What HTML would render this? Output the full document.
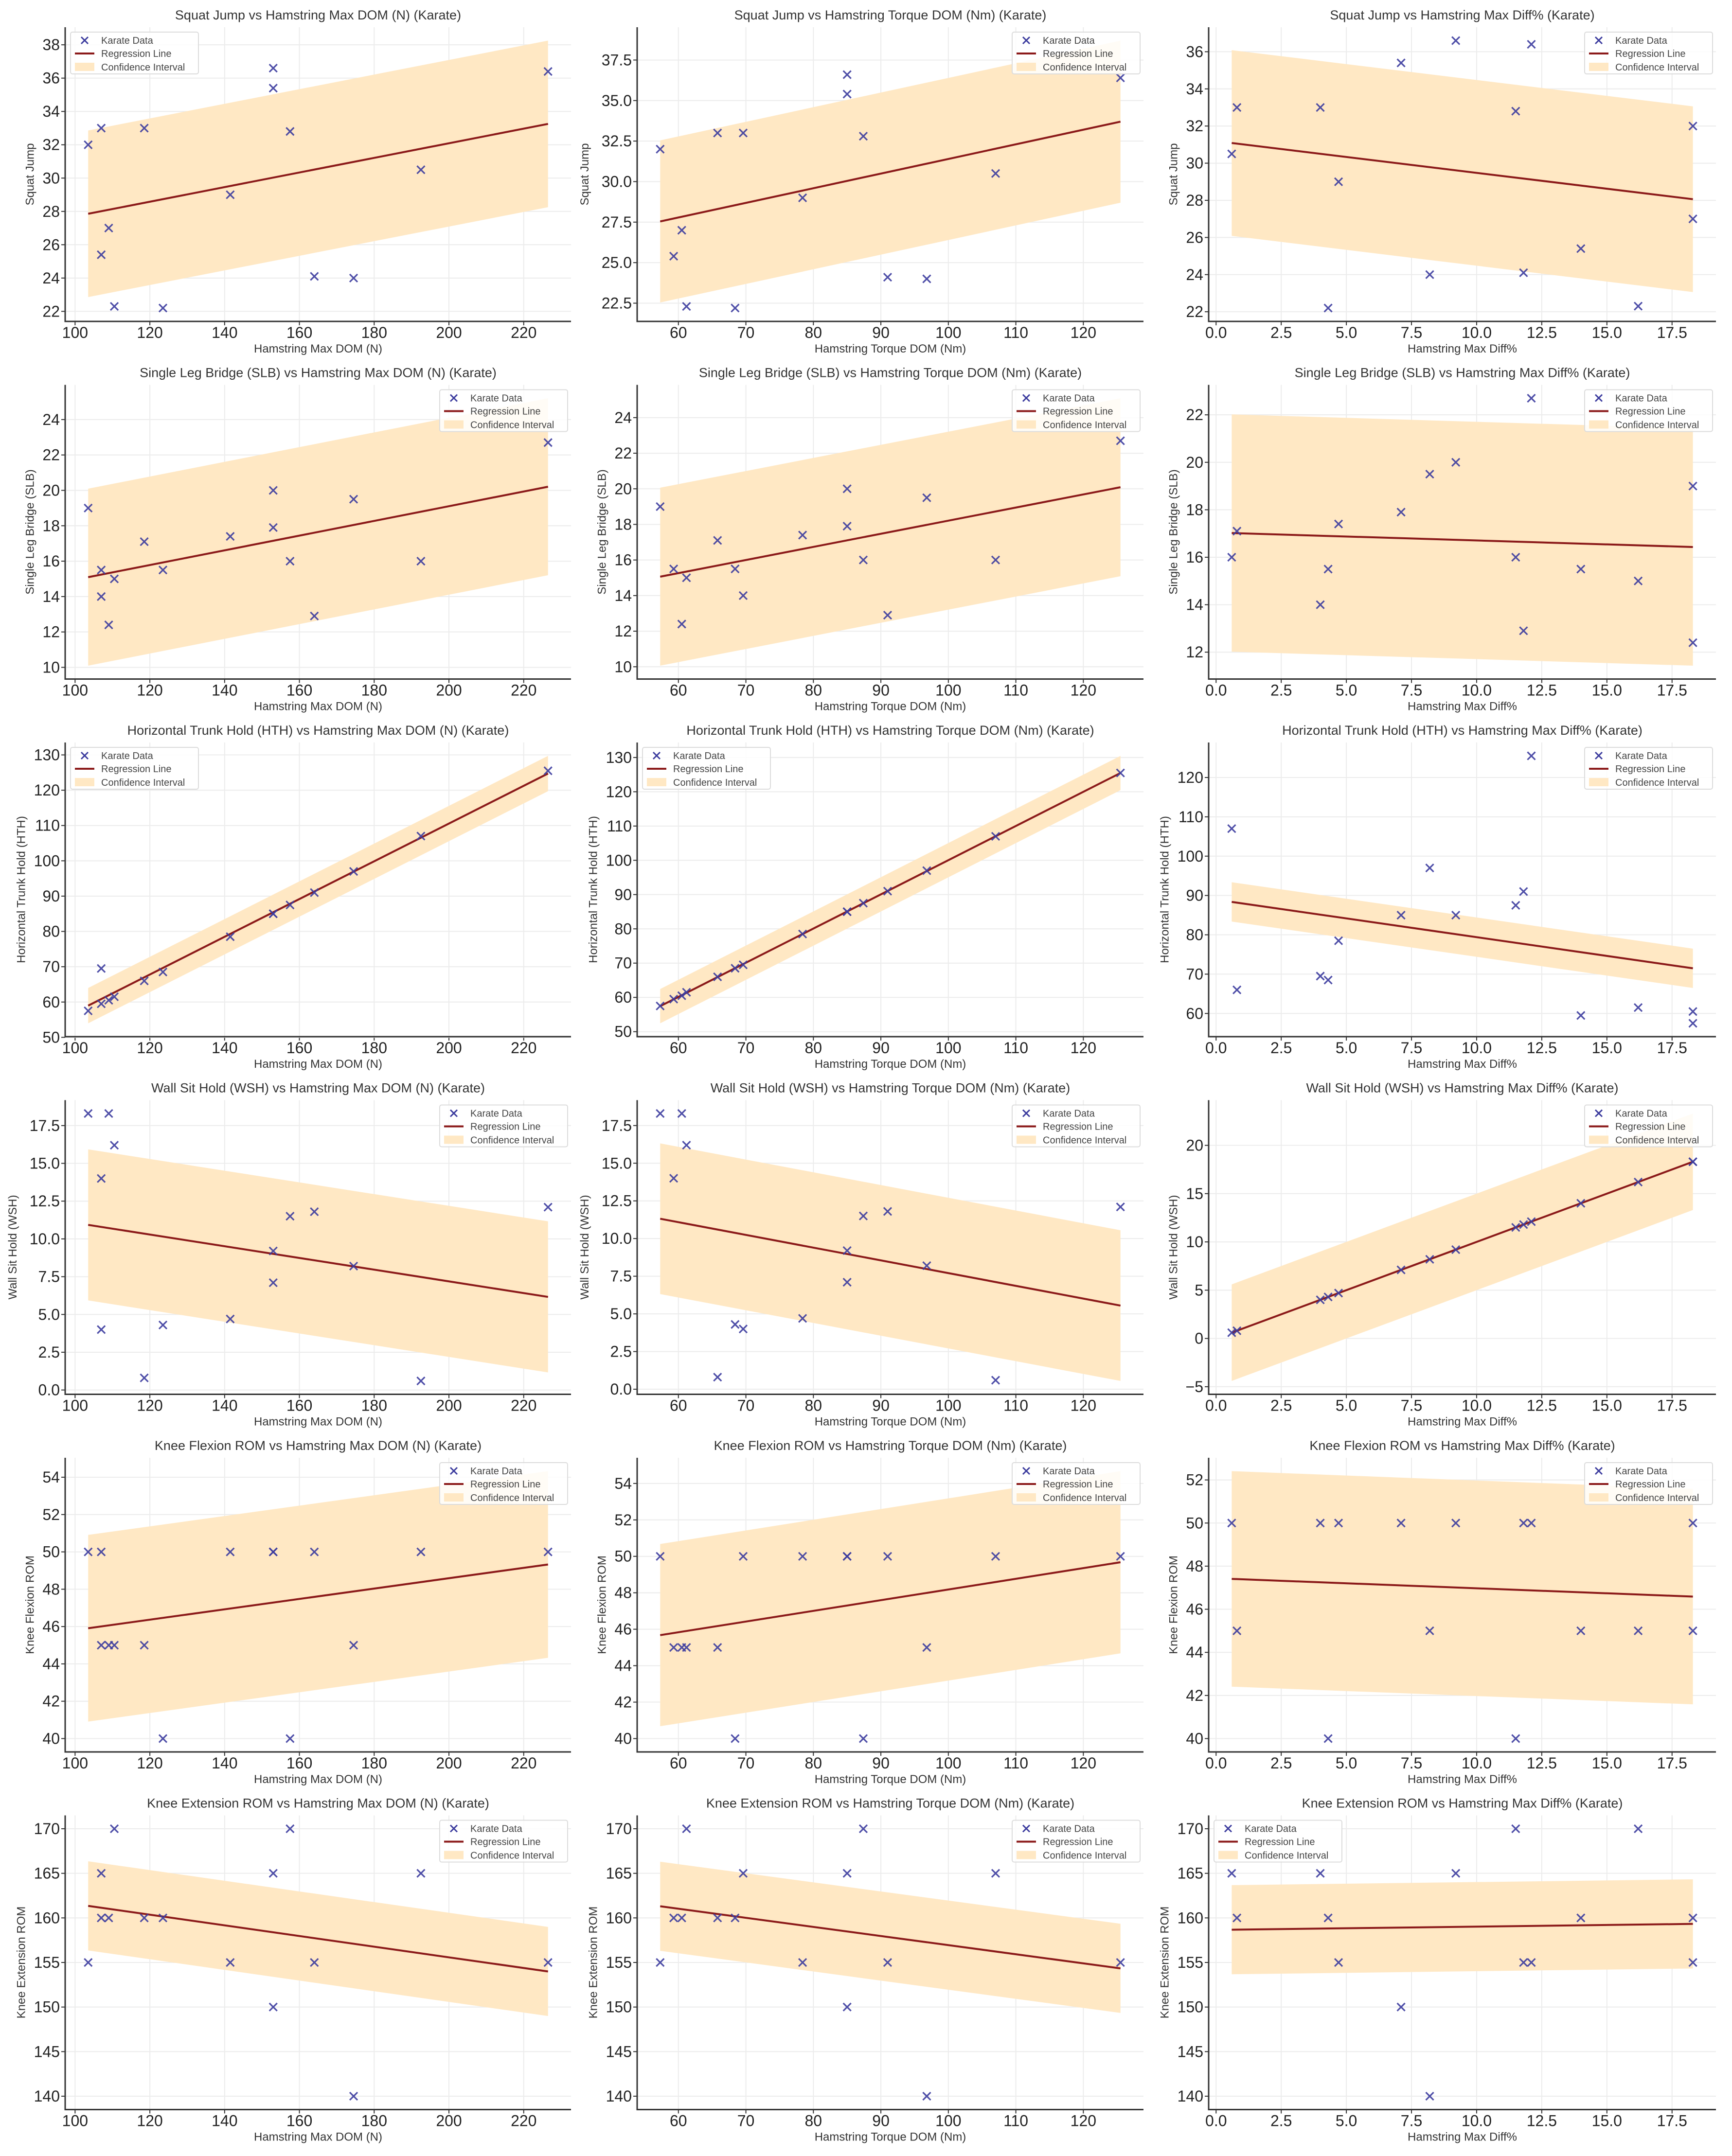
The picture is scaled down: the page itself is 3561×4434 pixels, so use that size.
<!DOCTYPE html>
<html><head><meta charset="utf-8"><style>
html,body{margin:0;padding:0;background:#fff;}
svg{display:block;font-family:"Liberation Sans",sans-serif;}
</style></head><body>
<svg id="fig" width="3561" height="4434" viewBox="0 0 3561 4434" xmlns="http://www.w3.org/2000/svg"></svg>
<script>
// athletes (same order across all arrays)
const maxDom = [103.5,107,118.5,107,109,110.5,123.5,141.5,153,153,157.5,164,174.5,192.5,226.5];
const torqueDom = [57.3,69.6,65.8,59.3,60.5,61.2,68.4,78.4,85,85,87.4,91,96.8,107,125.5];
const maxDiff = [18.3,4.0,0.8,14,18.3,16.2,4.3,4.7,9.2,7.1,11.5,11.8,8.2,0.6,12.1];
const squatJump = [32,33,33,25.4,27,22.3,22.2,29,36.6,35.4,32.8,24.1,24,30.5,36.4];
const singleLegBridge = [19,14,17.1,15.5,12.4,15,15.5,17.4,20,17.9,16,12.9,19.5,16,22.7];
const trunkHold = [57.5,69.5,66,59.5,60.5,61.5,68.5,78.5,85,85,87.5,91,97,107,125.5];
const wallSit = [18.3,4.0,0.8,14,18.3,16.2,4.3,4.7,9.2,7.1,11.5,11.8,8.2,0.6,12.1];
const kneeFlex = [50,50,45,45,45,45,40,50,50,50,40,50,45,50,50];
const kneeExt = [155,165,160,160,160,170,160,155,165,150,170,155,140,165,155];

const xNames = ["Hamstring Max DOM (N)","Hamstring Torque DOM (Nm)","Hamstring Max Diff%"];
const xTitleNames = ["Hamstring Max DOM (N)","Hamstring Torque DOM (Nm)","Hamstring Max Diff% "];
const xTickLabels = [["100","120","140","160","180","200","220"],["60","70","80","90","100","110","120"],["0.0","2.5","5.0","7.5","10.0","12.5","15.0","17.5"]];
const yNames = ["Squat Jump","Single Leg Bridge (SLB)","Horizontal Trunk Hold (HTH)","Wall Sit Hold (WSH)","Knee Flexion ROM","Knee Extension ROM"];
const yTickLabels = [
 [["22","24","26","28","30","32","34","36","38"],["22.5","25.0","27.5","30.0","32.5","35.0","37.5"],["22","24","26","28","30","32","34","36"]],
 [["10","12","14","16","18","20","22","24"],["10","12","14","16","18","20","22","24"],["12","14","16","18","20","22"]],
 [["50","60","70","80","90","100","110","120","130"],["50","60","70","80","90","100","110","120","130"],["60","70","80","90","100","110","120"]],
 [["0.0","2.5","5.0","7.5","10.0","12.5","15.0","17.5"],["0.0","2.5","5.0","7.5","10.0","12.5","15.0","17.5"],["\u22125","0","5","10","15","20"]],
 [["40","42","44","46","48","50","52","54"],["40","42","44","46","48","50","52","54"],["40","42","44","46","48","50","52"]],
 [["140","145","150","155","160","165","170"],["140","145","150","155","160","165","170"],["140","145","150","155","160","165","170"]]
];
const legendSide = [["L","R","R"],["R","R","R"],["L","L","R"],["R","R","R"],["R","R","R"],["R","R","L"]];
const bandHalf = 5;

const xs = [maxDom, torqueDom, maxDiff];
const ys = [squatJump, singleLegBridge, trunkHold, wallSit, kneeFlex, kneeExt];
const colL = [134,1310,2485], colR = [1174,2351,3528];
const NS = "http://www.w3.org/2000/svg";
const svg = document.getElementById('fig');
function mk(tag, attrs, parent){const e=document.createElementNS(NS,tag);for(const k in attrs)e.setAttribute(k,attrs[k]);(parent||svg).appendChild(e);return e;}
function num(s){return parseFloat(s.replace('\u2212','-'));}
function slug(s){return s.toLowerCase().replace(/[^a-z0-9]+/g,'-').replace(/^-|-$/g,'');}

for(let r=0;r<6;r++){
 for(let c=0;c<3;c++){
  const X=xs[c], Y=ys[r], n=X.length;
  const top=56+735.5*r, bot=top+605, L=colL[c], R=colR[c];
  // regression
  let mx=0,my=0;for(let i=0;i<n;i++){mx+=X[i];my+=Y[i];}mx/=n;my/=n;
  let sxy=0,sxx=0;for(let i=0;i<n;i++){sxy+=(X[i]-mx)*(Y[i]-my);sxx+=(X[i]-mx)**2;}
  const b=sxy/sxx,a=my-b*mx;
  const x0=Math.min(...X), x1=Math.max(...X);
  const f=v=>a+b*v;
  let ymin=Math.min(...Y,f(x0)-bandHalf,f(x1)-bandHalf), ymax=Math.max(...Y,f(x0)+bandHalf,f(x1)+bandHalf);
  const xr=x1-x0, yr=ymax-ymin;
  const xlo=x0-0.05*xr, xhi=x1+0.05*xr, ylo=ymin-0.05*yr, yhi=ymax+0.05*yr;
  const sx=v=>L+(v-xlo)/(xhi-xlo)*(R-L);
  const sy=v=>bot-(v-ylo)/(yhi-ylo)*(bot-top);
  const g=mk('g',{});
  
  
  // title
  const t=mk('text',{x:(L+R)/2,y:top-16,'text-anchor':'middle','font-size':27,fill:'#333'},g);
  t.textContent=yNames[r]+" vs "+xTitleNames[c]+" (Karate)";
  
  
  // grid + ticks
  const xt=xTickLabels[c], yt=yTickLabels[r][c];
  xt.forEach(lab=>{const v=num(lab);const px=sx(v);
   const gl=mk('line',{x1:px,x2:px,y1:top,y2:bot,stroke:'#ececec','stroke-width':2},g);
   
   mk('line',{x1:px,x2:px,y1:bot,y2:bot+8,stroke:'#333','stroke-width':2},g);
   const tx=mk('text',{x:px,y:bot+34,'text-anchor':'middle','font-size':32,fill:'#222'},g);
   tx.textContent=lab;
   
  });
  let maxw=0;
  yt.forEach(lab=>{const v=num(lab);const py=sy(v);
   const gl=mk('line',{x1:L,x2:R,y1:py,y2:py,stroke:'#ececec','stroke-width':2},g);
   
   mk('line',{x1:L-8,x2:L,y1:py,y2:py,stroke:'#333','stroke-width':2},g);
   const ty=mk('text',{x:L-11,y:py+11,'text-anchor':'end','font-size':32,fill:'#222'},g);
   ty.textContent=lab;
   
   maxw=Math.max(maxw,lab.length*17.8);
  });
  // band
  const band=mk('polygon',{points:[sx(x0)+','+sy(f(x0)+bandHalf),sx(x1)+','+sy(f(x1)+bandHalf),sx(x1)+','+sy(f(x1)-bandHalf),sx(x0)+','+sy(f(x0)-bandHalf)].join(' '),fill:'#ffe8c4'},g);
  
  // regression line
  const rl=mk('line',{x1:sx(x0),y1:sy(f(x0)),x2:sx(x1),y2:sy(f(x1)),stroke:'#8b1a1a','stroke-width':4},g);
  
  // points
  for(let i=0;i<n;i++){const px=sx(X[i]),py=sy(Y[i]),d=8;
   const p=mk('path',{d:`M${px-d},${py-d}L${px+d},${py+d}M${px-d},${py+d}L${px+d},${py-d}`,stroke:'#3c3c9e','stroke-width':3.2,fill:'none','stroke-opacity':0.9},g);
   
  }
  // spines
  mk('line',{x1:L,x2:L,y1:top,y2:bot+1.5,stroke:'#333','stroke-width':3},g);
  mk('line',{x1:L-1.5,x2:R,y1:bot,y2:bot,stroke:'#333','stroke-width':3},g);
  // axis labels
  const xl=mk('text',{x:(L+R)/2,y:bot+64,'text-anchor':'middle','font-size':24,fill:'#333'},g);
  xl.textContent=xNames[c];
  const yx=L-11-maxw-18, ycen=(top+bot)/2;
  const yl=mk('text',{x:yx,y:ycen,'text-anchor':'middle','font-size':24,fill:'#333',transform:`rotate(-90 ${yx} ${ycen})`},g);
  yl.textContent=yNames[r];
  // legend
  const lw=263,lh=86;const lx=legendSide[r][c]==='L'?L+11:R-7-lw, ly=top+10;
  const lg=mk('g',{},g);
  
  mk('rect',{x:lx,y:ly,width:lw,height:lh,rx:4,fill:'#fff','fill-opacity':0.85,stroke:'#dcdcdc','stroke-width':2},lg);
  const mxp=lx+29, r1=ly+17;
  mk('path',{d:`M${mxp-7},${r1-7}L${mxp+7},${r1+7}M${mxp-7},${r1+7}L${mxp+7},${r1-7}`,stroke:'#3c3c9e','stroke-width':3},lg);
  mk('line',{x1:lx+9,x2:lx+49,y1:r1+27,y2:r1+27,stroke:'#8b1a1a','stroke-width':4},lg);
  mk('rect',{x:lx+9,y:r1+46,width:40,height:17,fill:'#ffe8c4'},lg);
  [["Karate Data",r1+7],["Regression Line",r1+34],["Confidence Interval",r1+62]].forEach(([s,yy])=>{
   const te=mk('text',{x:lx+63,y:yy,'font-size':20,fill:'#444'},lg);te.textContent=s;
   
  });
 }
}
</script>
</body></html>
